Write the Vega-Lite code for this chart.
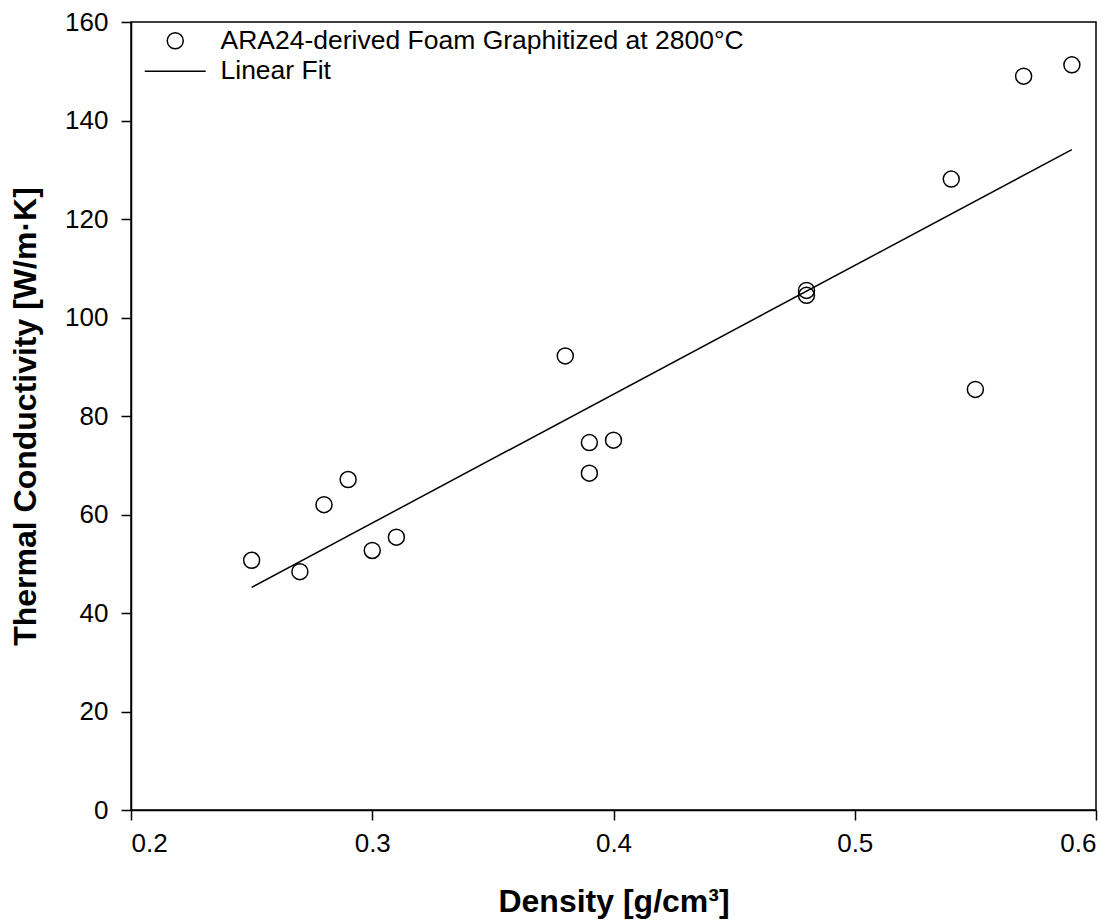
{
  "$schema": "https://vega.github.io/schema/vega-lite/v6.json",
  "autosize": "none",
  "width": 965,
  "height": 788,
  "padding": {"left": 131, "top": 22, "right": 24, "bottom": 114},
  "background": "white",
  "config": {
    "font": "Liberation Sans",
    "view": {"stroke": "black", "strokeWidth": 1.5},
    "axis": {
      "grid": false,
      "domainColor": "black",
      "domainWidth": 1.5,
      "tickColor": "black",
      "tickWidth": 1.5,
      "tickSize": 10,
      "labelFont": "Liberation Sans",
      "labelFontSize": 26,
      "labelColor": "black",
      "titleFont": "Liberation Sans",
      "titleFontSize": 32,
      "titleFontWeight": "bold",
      "titleColor": "black"
    },
    "legend": {
      "labelFont": "Liberation Sans",
      "labelFontSize": 26.5,
      "labelColor": "black",
      "labelLimit": 0,
      "symbolSize": 256,
      "symbolStrokeWidth": 1.5,
      "symbolStrokeColor": "black",
      "symbolFillColor": "transparent",
      "labelOffset": 32,
      "rowPadding": 3.5,
      "padding": 0
    }
  },
  "datasets": {
    "measured": [
      {"density": 0.25, "conductivity": 50.7, "series": "ARA24-derived Foam Graphitized at 2800°C"},
      {"density": 0.27, "conductivity": 48.4, "series": "ARA24-derived Foam Graphitized at 2800°C"},
      {"density": 0.28, "conductivity": 62.0, "series": "ARA24-derived Foam Graphitized at 2800°C"},
      {"density": 0.29, "conductivity": 67.1, "series": "ARA24-derived Foam Graphitized at 2800°C"},
      {"density": 0.30, "conductivity": 52.7, "series": "ARA24-derived Foam Graphitized at 2800°C"},
      {"density": 0.31, "conductivity": 55.4, "series": "ARA24-derived Foam Graphitized at 2800°C"},
      {"density": 0.38, "conductivity": 92.2, "series": "ARA24-derived Foam Graphitized at 2800°C"},
      {"density": 0.39, "conductivity": 74.6, "series": "ARA24-derived Foam Graphitized at 2800°C"},
      {"density": 0.39, "conductivity": 68.4, "series": "ARA24-derived Foam Graphitized at 2800°C"},
      {"density": 0.40, "conductivity": 75.1, "series": "ARA24-derived Foam Graphitized at 2800°C"},
      {"density": 0.48, "conductivity": 105.5, "series": "ARA24-derived Foam Graphitized at 2800°C"},
      {"density": 0.48, "conductivity": 104.5, "series": "ARA24-derived Foam Graphitized at 2800°C"},
      {"density": 0.54, "conductivity": 128.1, "series": "ARA24-derived Foam Graphitized at 2800°C"},
      {"density": 0.55, "conductivity": 85.4, "series": "ARA24-derived Foam Graphitized at 2800°C"},
      {"density": 0.57, "conductivity": 149.0, "series": "ARA24-derived Foam Graphitized at 2800°C"},
      {"density": 0.59, "conductivity": 151.3, "series": "ARA24-derived Foam Graphitized at 2800°C"}
    ],
    "fit": [
      {"density": 0.25, "conductivity": 45.2},
      {"density": 0.59, "conductivity": 134.1}
    ]
  },
  "encoding": {
    "x": {
      "field": "density",
      "type": "quantitative",
      "scale": {"domain": [0.2, 0.6], "nice": false, "zero": false},
      "axis": {"values": [0.2, 0.3, 0.4, 0.5, 0.6], "format": ".1f", "labelPadding": 10, "title": "Density [g/cm³]", "titlePadding": 30}
    },
    "y": {
      "field": "conductivity",
      "type": "quantitative",
      "scale": {"domain": [0, 160], "nice": false},
      "axis": {"values": [0, 20, 40, 60, 80, 100, 120, 140, 160], "labelPadding": 13, "title": "Thermal Conductivity [W/m·K]", "titlePadding": 22}
    }
  },
  "layer": [
    {
      "data": {"name": "fit"},
      "mark": {"type": "line", "color": "black", "strokeWidth": 1.5},
      "encoding": {}
    },
    {
      "data": {"name": "measured"},
      "mark": {"type": "point", "filled": false, "color": "black", "strokeWidth": 1.5, "opacity": 1, "size": 256},
      "encoding": {
        "shape": {
          "field": "series",
          "type": "nominal",
          "scale": {"domain": ["ARA24-derived Foam Graphitized at 2800°C", "Linear Fit"], "range": ["circle", "M-3.81,0L3.81,0"]},
          "legend": {"title": null, "orient": "none", "legendX": 31, "legendY": 5.5}
        }
      }
    }
  ]
}
